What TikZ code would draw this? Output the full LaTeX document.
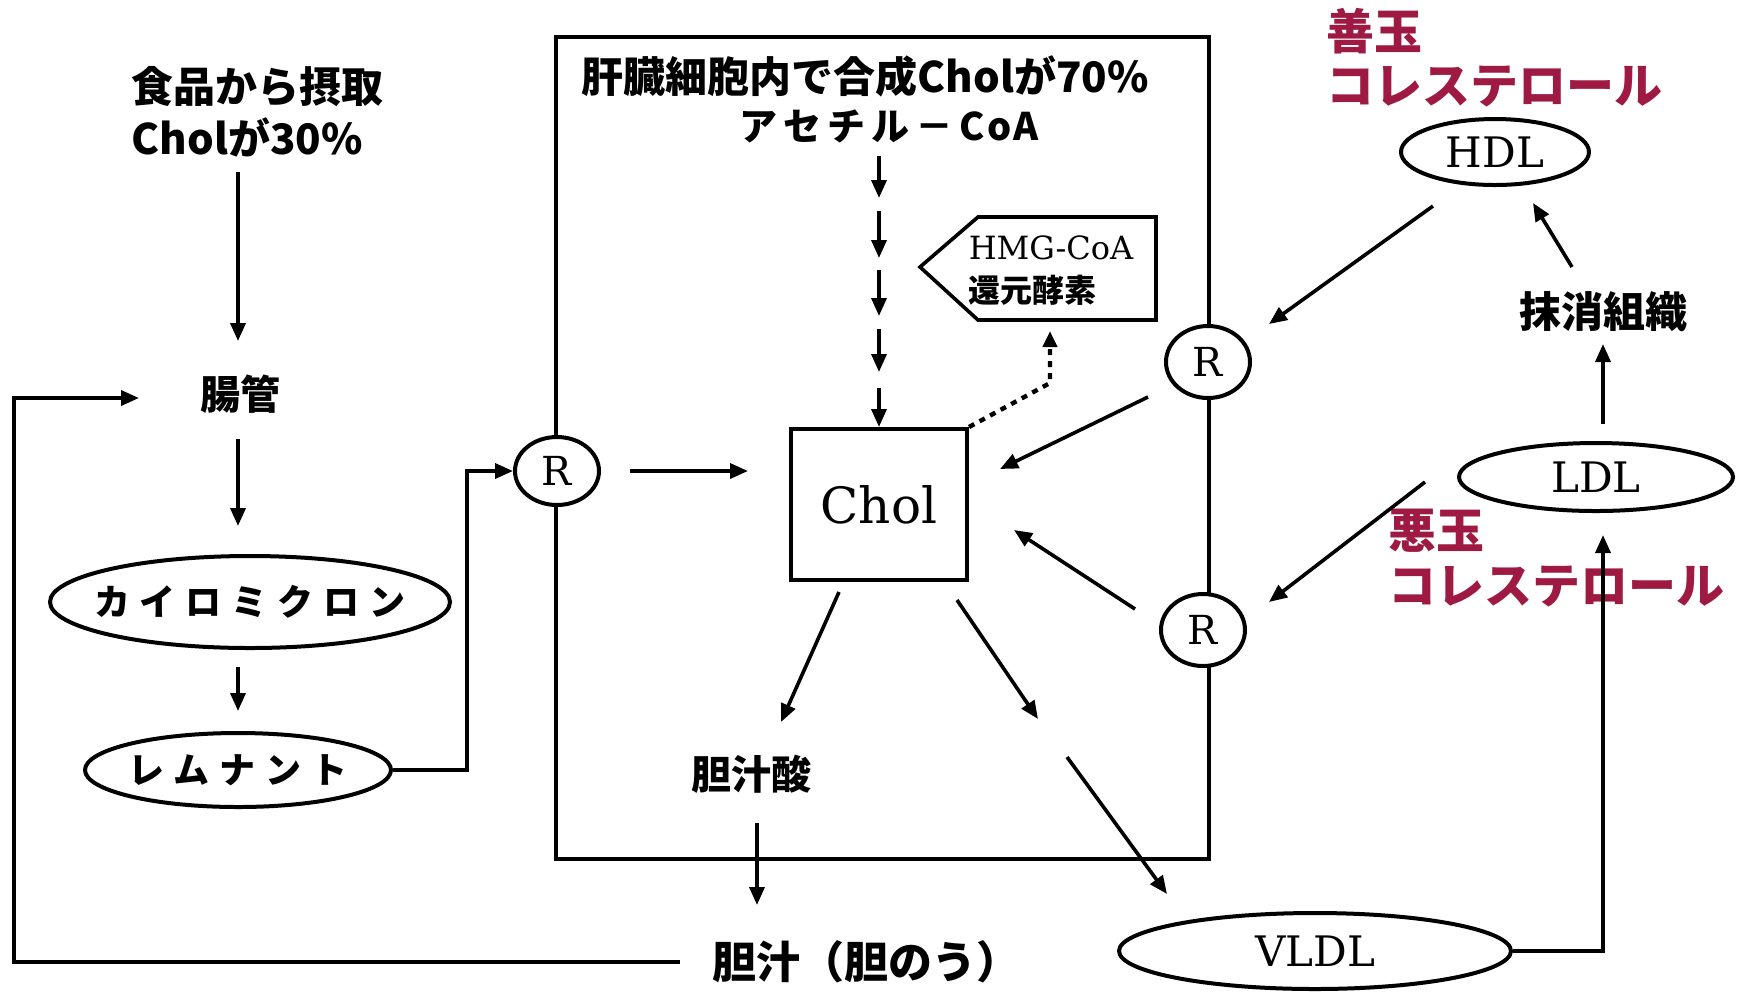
\documentclass[tikz,border=0pt]{standalone}
\usepackage{fontspec}
\newfontfamily\jp{Noto Sans CJK JP}
\newfontfamily\srf{DejaVu Serif}
\usetikzlibrary{arrows.meta,shapes.geometric}
\definecolor{tamared}{RGB}{158,26,66}
\newcommand\kgap{\hspace{5pt}}
\newcommand\agap{\hspace{3pt}}
\begin{document}
\begin{tikzpicture}[x=0.5pt,y=-0.5pt,line width=1.8pt,
  arr/.style={-{Triangle[length=9pt,width=7.5pt]}},
  dotarr/.style={-{Triangle[length=8pt,width=7pt]},line width=2.2pt,dash pattern=on 3pt off 3pt},
  jpbold/.style={font=\jp\bfseries\fontsize{21}{25}\selectfont, inner sep=0pt},
  jpmid/.style={font=\jp\bfseries\fontsize{20}{24}\selectfont, inner sep=0pt},
  redtext/.style={font=\jp\bfseries\fontsize{24}{28}\selectfont, text=tamared, inner sep=0pt, anchor=west},
  kana/.style={font=\jp\bfseries\fontsize{18}{21}\selectfont, inner sep=0pt},
  oval/.style={draw, ellipse, inner sep=0pt, line width=2pt},
  rnode/.style={draw, ellipse, fill=white, minimum width=42pt, minimum height=34pt, inner sep=0pt, line width=2pt, font=\srf\fontsize{20}{22}\selectfont},
  serifbig/.style={font=\srf\fontsize{21}{24}\selectfont, inner sep=0pt},
]
\useasboundingbox (0,0) rectangle (1742,993);
% liver cell box
\draw (556,37) rectangle (1209,859);

% texts
\node[jpbold, anchor=west] (food1) at (130,87) {食品から摂取};
\node[jpbold, anchor=west] (food2) at (130,137) {Cholが30\%};
\node[jpbold, anchor=west] (title) at (580,76) {肝臓細胞内で合成Cholが70\%};
\node[kana, font=\jp\bfseries\fontsize{19}{22}\selectfont] (acoa) at (889,126) {ア\agap セ\agap チ\agap ル\agap －\agap C\kern1pt o\kern1pt A};
\node[jpmid] (chou) at (240,394) {腸管};
\node[oval, minimum width=200pt, minimum height=46pt] (chylo) at (250,602) {};
\node[kana] (chylot) at (chylo) {カ\kgap イ\kgap ロ\kgap ミ\kgap ク\kgap ロ\kgap ン};
\node[oval, minimum width=153pt, minimum height=37pt] (remn) at (238,770) {};
\node[kana] (remnt) at (remn) {レ\kgap ム\kgap ナ\kgap ン\kgap ト};
\node[draw, line width=2pt, minimum width=88pt, minimum height=75.5pt, inner sep=0pt, font=\srf\fontsize{25}{28}\selectfont] (chol) at (879,504.5) {Chol};

% HMG-CoA reductase tag
\draw (920,267) -- (978,217) -- (1156,217) -- (1156,320) -- (978,320) -- cycle;
\node[anchor=west, inner sep=0pt, font=\srf\fontsize{16}{18}\selectfont] (hmg1) at (967,248) {HMG-CoA};
\node[anchor=west, inner sep=0pt, font=\jp\bfseries\fontsize{16}{18}\selectfont] (hmg2) at (967,290) {還元酵素};

\node[rnode] (Rl) at (557,471) {R};
\node[rnode, minimum height=36pt] (Ru) at (1208,362) {R};
\node[rnode, minimum height=36pt] (Rd) at (1203,630) {R};

\node[jpmid] (tansan) at (751,774) {胆汁酸};
\node[jpmid, font=\jp\bfseries\fontsize{22}{26}\selectfont, anchor=west] (tanjuu) at (711,962) {胆汁（胆のう）};

\node[oval, minimum width=94pt, minimum height=33pt] (hdl) at (1495,152) {};
\node[serifbig] (hdlt) at (hdl) {HDL};
\node[oval, minimum width=137pt, minimum height=34pt] (ldl) at (1596,477) {};
\node[serifbig] (ldlt) at (ldl) {LDL};
\node[oval, minimum width=196pt, minimum height=38pt] (vldl) at (1315,951) {};
\node[serifbig] (vldlt) at (vldl) {VLDL};
\node[jpbold] (masho) at (1603,312) {抹消組織};

\node[redtext] (zen1) at (1325,31) {善玉};
\node[redtext] (zen2) at (1325,87) {コレステロール};
\node[redtext] (aku1) at (1387,531) {悪玉};
\node[redtext] (aku2) at (1387,587) {コレステロール};

% connector end points
\coordinate (c1a) at (238,172); \coordinate (c1b) at (238,341);
\coordinate (fbc) at (14,398);  \coordinate (fbe) at (139,398);
\coordinate (c3a) at (238,439); \coordinate (c3b) at (238,526);
\coordinate (c4a) at (238,667); \coordinate (c4b) at (238,711);
\coordinate (dt1) at (1050,383); \coordinate (dt2) at (1050,331);
\coordinate (c9a) at (1148,397); \coordinate (c9b) at (1000,469);
\coordinate (c10a) at (1135,609); \coordinate (c10b) at (1014,530);
\coordinate (c11a) at (839,592); \coordinate (c11b) at (781,722);
\coordinate (c12a) at (957,600); \coordinate (c12b) at (1038,719);
\coordinate (c13a) at (1067,757); \coordinate (c13b) at (1167,894);
\coordinate (c14a) at (757,823); \coordinate (c14b) at (757,905);
\coordinate (c15) at (1603,951); \coordinate (c15b) at (1603,535);
\coordinate (c16a) at (1603,424); \coordinate (c16b) at (1603,344);
\coordinate (c17a) at (1572,267); \coordinate (c17b) at (1533,203);
\coordinate (c18a) at (1433,206); \coordinate (c18b) at (1269,324);
\coordinate (c19a) at (1425,482); \coordinate (c19b) at (1269,602);

% connectors
\draw[arr] (c1a) -- (c1b);
\draw[arr] ([xshift=-15.5pt]tanjuu.west) -| (fbc) -- (fbe);
\draw[arr] (c3a) -- (c3b);
\draw[arr] (c4a) -- (c4b);
\draw[arr] (remn.east) -| ([xshift=-23pt]Rl.west) -- (Rl.west);
\draw[arr, shorten <=14.5pt, shorten >=20.5pt] (Rl.east) -- (Rl.east -| chol.west);
\foreach \a/\b in {156/198,211/258,270/316,329/372}
  \draw[arr] (chol.north |- 0,\a) -- (chol.north |- 0,\b);
\draw[arr] (chol.north |- 0,388) -- (chol.north);
\draw[dotarr] (chol.north east) -- (dt1) -- (dt2);
\draw[arr] (c9a) -- (c9b);
\draw[arr] (c10a) -- (c10b);
\draw[arr] (c11a) -- (c11b);
\draw[arr] (c12a) -- (c12b);
\draw[arr] (c13a) -- (c13b);
\draw[arr] (c14a) -- (c14b);
\draw[arr] (vldl.east) -- (c15) -- (c15b);
\draw[arr] (c16a) -- (c16b);
\draw[arr] (c17a) -- (c17b);
\draw[arr] (c18a) -- (c18b);
\draw[arr] (c19a) -- (c19b);
\end{tikzpicture}
\end{document}
